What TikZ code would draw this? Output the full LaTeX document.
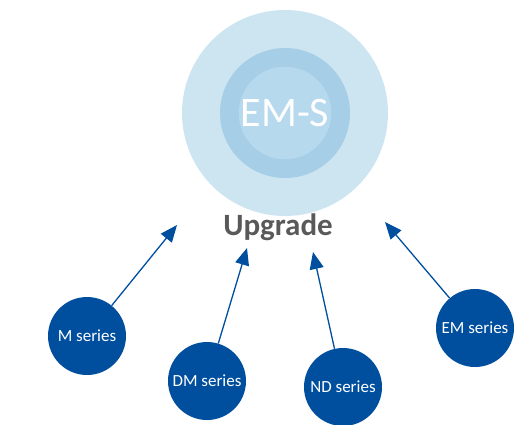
\documentclass[tikz,border=0pt]{standalone}
\usepackage{fontspec}
\setmainfont{Carlito}
\usetikzlibrary{arrows.meta}
\definecolor{ringout}{RGB}{205,228,241}
\definecolor{ringmid}{RGB}{166,206,230}
\definecolor{ringin}{RGB}{182,217,237}
\definecolor{seriesblue}{RGB}{0,78,158}
\definecolor{upgray}{RGB}{89,89,89}
\begin{document}
\begin{tikzpicture}[
    x=1pt, y=-1pt,
    ring/.style={circle, inner sep=0pt, draw=none},
    series/.style={circle, inner sep=0pt, minimum size=78pt, fill=seriesblue, text=white, font=\fontsize{17}{19}\selectfont},
    arrow/.style={-{Triangle[length=17pt,width=14pt]}, line width=1.3pt, seriesblue}
]
\useasboundingbox (0,0) rectangle (526,424);

% Cible
\node[ring, fill=ringout, minimum size=206pt] (outer) at (285,113) {};
\node[ring, fill=ringmid, minimum size=130pt] (mid) at (285,113) {};
\node[ring, fill=ringin, minimum size=90pt, text=white, font=\fontsize{42}{46}\selectfont] (ems) at (285,113) {EM-S};
\node[text=upgray, font=\bfseries\fontsize{31}{34}\selectfont] (upgrade) at (278,227) {Upgrade};

% Series
\node[series] (m) at (87,336) {M series};
\node[series] (dm) at (207,381) {DM series};
\node[series] (nd) at (343,387) {ND series};
\node[series] (em) at (475,328) {EM series};

% Pointes
\coordinate (tm) at (177,225);
\coordinate (tdm) at (247,248);
\coordinate (tnd) at (313,252);
\coordinate (tem) at (385,222);

\draw[arrow] (m) -- (tm);
\draw[arrow] (dm) -- (tdm);
\draw[arrow] (nd) -- (tnd);
\draw[arrow] (em) -- (tem);

\end{tikzpicture}
\end{document}
